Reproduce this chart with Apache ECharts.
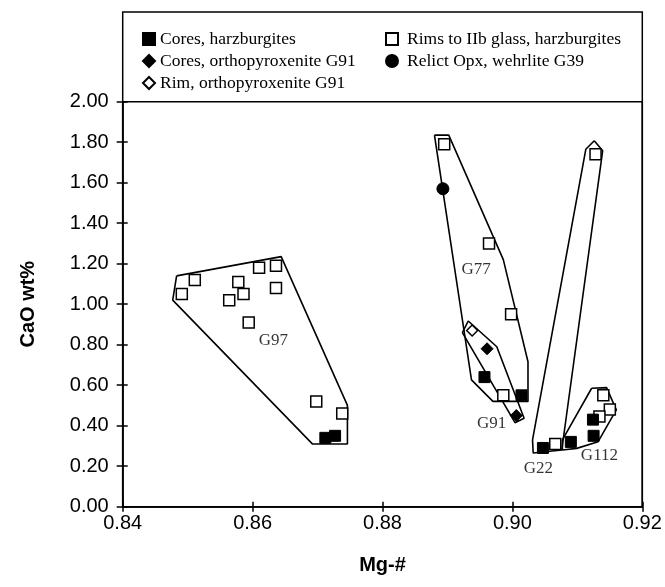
<!DOCTYPE html>
<html>
<head>
<meta charset="utf-8">
<script src="https://cdn.jsdelivr.net/npm/echarts@6/dist/echarts.min.js"></script>
<style>
  html, body { margin: 0; padding: 0; background: #fff; }
  #chart { width: 665px; height: 587px; }
</style>
</head>
<body>
<div id="chart"></div>
<script>
// Orthopyroxene compositions: Mg-# versus CaO wt%
const coresHarzburgites = [
  [0.8712, 0.34], [0.8727, 0.35], [0.8957, 0.64], [0.9014, 0.55],
  [0.9047, 0.29], [0.9090, 0.32], [0.9125, 0.35], [0.9124, 0.43]
];
const rimsHarzburgites = [
  [0.8491, 1.05], [0.8511, 1.12], [0.8564, 1.02], [0.8578, 1.11],
  [0.8586, 1.05], [0.8594, 0.91], [0.8610, 1.18], [0.8636, 1.19],
  [0.8636, 1.08], [0.8698, 0.52], [0.8738, 0.46],
  [0.8895, 1.79], [0.8964, 1.30], [0.8998, 0.95], [0.8986, 0.55],
  [0.9128, 1.74], [0.9066, 0.31],
  [0.9140, 0.55], [0.9150, 0.48], [0.9134, 0.445]
];
const coresOrthopyroxenite = [[0.8961, 0.78], [0.9006, 0.45]];
const rimOrthopyroxenite = [[0.8938, 0.87]];
const relictWehrlite = [[0.8893, 1.57]];

// Sample group outlines (closed polygons)
const outlineG97 = [[0.8483, 1.14], [0.8477, 1.02], [0.8692, 0.31], [0.8746, 0.31], [0.8746, 0.50], [0.8644, 1.235], [0.8483, 1.14]];
const outlineG77 = [[0.8880, 1.835], [0.8902, 1.835], [0.8986, 1.22], [0.9024, 0.716], [0.9024, 0.52], [0.8970, 0.52], [0.8937, 0.626], [0.8880, 1.835]];
const outlineG91 = [[0.8923, 0.86], [0.8932, 0.917], [0.8976, 0.79], [0.9018, 0.437], [0.9004, 0.415], [0.8923, 0.86]];
const outlineG22 = [[0.9126, 1.807], [0.9139, 1.758], [0.9076, 0.28], [0.9032, 0.265], [0.9031, 0.33], [0.9113, 1.765], [0.9126, 1.807]];
const outlineG112 = [[0.9122, 0.585], [0.9145, 0.588], [0.9160, 0.478], [0.9132, 0.321], [0.9099, 0.288], [0.9077, 0.28], [0.9077, 0.33], [0.9122, 0.585]];

const groupLabels = [
  { name: 'G97', value: [0.8632, 0.82] },
  { name: 'G77', value: [0.8944, 1.173] },
  { name: 'G91', value: [0.8968, 0.41] },
  { name: 'G22', value: [0.9040, 0.19] },
  { name: 'G112', value: [0.9134, 0.252] }
];

const xTicks = { min: 0.84, max: 0.92, step: 0.02 };
const yTicks = { min: 0, max: 2, step: 0.2 };

const serif = '"Liberation Serif", "Times New Roman", serif';
const sans = '"Liberation Sans", Arial, sans-serif';

const chart = echarts.init(document.getElementById('chart'), null, { renderer: 'canvas' });

function outline(data) {
  return {
    type: 'line', data: data, symbol: 'none', silent: true, z: 2,
    lineStyle: { color: '#000', width: 1.6 }, legendHoverLink: false
  };
}

const legendText = { fontFamily: serif, fontSize: 17.5, color: '#000', lineHeight: 17.5 };

const option = {
  animation: false,
  backgroundColor: '#fff',
  grid: { left: 122.7, right: 22.7, top: 101.7, bottom: 80.3, show: true, borderColor: '#000', borderWidth: 1.5 },
  graphic: [{
    type: 'rect',
    shape: { x: 122.7, y: 12, width: 519.6, height: 494.7 },
    style: { fill: 'none', stroke: '#000', lineWidth: 1.5 },
    silent: true
  }],
  legend: [
    {
      data: ['Cores, harzburgites', 'Cores, orthopyroxenite G91', 'Rim, orthopyroxenite G91'],
      orient: 'vertical', left: 142, top: 30, itemGap: 4, padding: 0,
      itemWidth: 12, itemHeight: 12, textStyle: legendText
    },
    {
      data: ['Rims to IIb glass, harzburgites', 'Relict Opx, wehrlite G39'],
      orient: 'vertical', left: 385, top: 30, itemGap: 4, padding: 0,
      itemWidth: 12, itemHeight: 12,
      textStyle: { ...legendText, padding: [0, 0, 0, 4] }
    }
  ],
  xAxis: [
    {
      type: 'value', min: xTicks.min, max: xTicks.max, interval: xTicks.step,
      name: 'Mg-#', nameLocation: 'middle', nameGap: 49,
      nameTextStyle: { fontFamily: sans, fontSize: 20, fontWeight: 'bold', color: '#000' },
      axisLine: { lineStyle: { color: '#000', width: 1.5 } },
      axisTick: { show: true, inside: false, length: 5, lineStyle: { color: '#000', width: 1.5 } },
      axisLabel: { formatter: v => v.toFixed(2), fontFamily: sans, fontSize: 20, color: '#000', margin: 7 },
      splitLine: { show: false }
    },
    {
      type: 'value', min: xTicks.min, max: xTicks.max, interval: xTicks.step, position: 'bottom',
      axisLine: { show: false },
      axisTick: { show: true, inside: true, length: 5, lineStyle: { color: '#000', width: 1.5 } },
      axisLabel: { show: false }, splitLine: { show: false }
    }
  ],
  yAxis: [
    {
      type: 'value', min: yTicks.min, max: yTicks.max, interval: yTicks.step,
      name: 'CaO wt%', nameLocation: 'middle', nameGap: 84, nameRotate: 90,
      nameTextStyle: { fontFamily: sans, fontSize: 20, fontWeight: 'bold', color: '#000' },
      axisLine: { lineStyle: { color: '#000', width: 1.5 } },
      axisTick: { show: true, inside: false, length: 6, lineStyle: { color: '#000', width: 1.5 } },
      axisLabel: { formatter: v => v.toFixed(2), fontFamily: sans, fontSize: 20, color: '#000', margin: 14 },
      splitLine: { show: false }
    },
    {
      type: 'value', min: yTicks.min, max: yTicks.max, interval: yTicks.step, position: 'left',
      axisLine: { show: false },
      axisTick: { show: true, inside: true, length: 5, lineStyle: { color: '#000', width: 1.5 } },
      axisLabel: { show: false }, splitLine: { show: false }
    }
  ],
  series: [
    outline(outlineG97), outline(outlineG77), outline(outlineG91), outline(outlineG22), outline(outlineG112),
    {
      name: 'Rims to IIb glass, harzburgites', type: 'scatter', data: rimsHarzburgites, z: 4,
      symbol: 'rect', symbolSize: 11,
      itemStyle: { color: '#fff', borderColor: '#000', borderWidth: 1.5, opacity: 1 }
    },
    {
      name: 'Cores, harzburgites', type: 'scatter', data: coresHarzburgites, z: 5,
      symbol: 'rect', symbolSize: 11,
      itemStyle: { color: '#000', borderColor: '#000', borderWidth: 1, opacity: 1 }
    },
    {
      name: 'Cores, orthopyroxenite G91', type: 'scatter', data: coresOrthopyroxenite, z: 5,
      symbol: 'diamond', symbolSize: 12,
      itemStyle: { color: '#000', borderColor: '#000', borderWidth: 1, opacity: 1 }
    },
    {
      name: 'Rim, orthopyroxenite G91', type: 'scatter', data: rimOrthopyroxenite, z: 5,
      symbol: 'diamond', symbolSize: 11,
      itemStyle: { color: '#fff', borderColor: '#000', borderWidth: 1.5, opacity: 1 }
    },
    {
      name: 'Relict Opx, wehrlite G39', type: 'scatter', data: relictWehrlite, z: 5,
      symbol: 'circle', symbolSize: 12,
      itemStyle: { color: '#000', borderColor: '#000', borderWidth: 1, opacity: 1 }
    },
    {
      type: 'scatter', data: groupLabels, symbolSize: 0, silent: true, z: 6,
      label: {
        show: true, position: 'inside', formatter: p => p.name,
        fontFamily: serif, fontSize: 17, color: '#000'
      }
    }
  ]
};

chart.setOption(option);
</script>
</body>
</html>
